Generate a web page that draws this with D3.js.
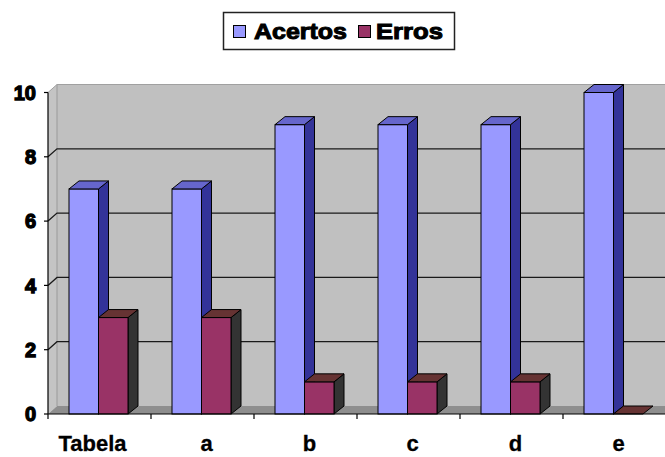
<!DOCTYPE html>
<html>
<head>
<meta charset="utf-8">
<script src="https://cdn.jsdelivr.net/npm/d3@7"></script>
<style>
  html, body { margin: 0; padding: 0; background: #fff; }
  svg { display: block; }
  text { font-family: "Liberation Sans", Arial, sans-serif; font-weight: bold; fill: #000; }
</style>
</head>
<body>
<svg id="chart" width="665" height="457"></svg>
<script>
// Chart data
const categories = ["Tabela", "a", "b", "c", "d", "e"];
const seriesNames = ["Acertos", "Erros"];
const acertos = [7, 7, 9, 9, 9, 10];
const erros = [3, 3, 1, 1, 1, 0];
const yTicks = [0, 2, 4, 6, 8, 10];

(function () {
const W = 665, H = 457;
const svg = d3.select("#chart");

// Plot geometry
const plotLeft = 48, plotBottom = 414, plotTop = 92.5;
const band = 103;
const wallDX = 9, wallDY = 8;   // depth of the back wall
const barDX = 10, barDY = 8;    // depth of each column

const x = d3.scaleBand().domain(categories).range([plotLeft, plotLeft + band * categories.length]);
const xs = d3.scaleBand().domain(seriesNames).range([21, 80]);
const y = d3.scaleLinear().domain([0, 10]).range([plotBottom, plotTop]);

const colors = {
  Acertos: { front: "#9999FF", side: "#333399", top: "#6666CC" },
  Erros:   { front: "#993366", side: "#333333", top: "#663333" }
};

const g = svg.append("g");

// Back wall
const wallRight = W + 20;
g.append("rect")
  .attr("x", plotLeft + wallDX).attr("y", y(10) - wallDY)
  .attr("width", wallRight - plotLeft - wallDX).attr("height", plotBottom - y(10))
  .attr("fill", "#C0C0C0");
// Side wall
g.append("path")
  .attr("d", `M${plotLeft},${plotBottom} L${plotLeft},${y(10)} L${plotLeft + wallDX},${y(10) - wallDY} L${plotLeft + wallDX},${plotBottom - wallDY} Z`)
  .attr("fill", "#C4C4C4");
g.append("line")
  .attr("x1", plotLeft + wallDX).attr("x2", plotLeft + wallDX)
  .attr("y1", y(10) - wallDY).attr("y2", plotBottom - wallDY)
  .attr("stroke", "#9a9a9a").attr("stroke-width", 1);
// Floor
g.append("path")
  .attr("d", `M${plotLeft},${plotBottom} L${plotLeft + wallDX},${plotBottom - wallDY} L${wallRight},${plotBottom - wallDY} L${wallRight},${plotBottom} Z`)
  .attr("fill", "#8E8E8E");
// Top edge of the wall
g.append("path")
  .attr("d", `M${plotLeft},${y(10)} L${plotLeft + wallDX},${y(10) - wallDY} L${wallRight},${y(10) - wallDY}`)
  .attr("fill", "none").attr("stroke", "#A0A0A0").attr("stroke-width", 1);

// Gridlines on side wall and back wall
const grid = yTicks.filter(t => t > 0 && t < 10);
g.selectAll(".grid").data(grid).join("path")
  .attr("class", "grid")
  .attr("d", t => `M${plotLeft},${y(t)} L${plotLeft + wallDX},${y(t) - wallDY} L${wallRight},${y(t) - wallDY}`)
  .attr("fill", "none").attr("stroke", "#1a1a1a").attr("stroke-width", 1.3);

// Columns
function column(cx, w, v, c) {
  const x0 = cx, x1 = cx + w;
  const y0 = y(0), y1 = y(v);
  const grp = g.append("g");
  if (v > 0) {
    grp.append("path")
      .attr("d", `M${x1},${y0} L${x1 + barDX},${y0 - barDY} L${x1 + barDX},${y1 - barDY} L${x1},${y1} Z`)
      .attr("fill", c.side).attr("stroke", "#000").attr("stroke-width", 1).attr("stroke-linejoin", "round");
    grp.append("rect")
      .attr("x", x0).attr("y", y1).attr("width", w).attr("height", y0 - y1)
      .attr("fill", c.front).attr("stroke", "#000").attr("stroke-width", 1);
  }
  grp.append("path")
    .attr("d", `M${x0},${y1} L${x0 + barDX},${y1 - barDY} L${x1 + barDX},${y1 - barDY} L${x1},${y1} Z`)
    .attr("fill", c.top).attr("stroke", "#000").attr("stroke-width", 1).attr("stroke-linejoin", "round");
}

categories.forEach((cat, i) => {
  const vals = { Acertos: acertos[i], Erros: erros[i] };
  seriesNames.forEach(s => {
    column(x(cat) + xs(s), xs.bandwidth(), vals[s], colors[s]);
  });
});

// Axes
const yAxis = g.append("g");
yAxis.append("line")
  .attr("x1", plotLeft).attr("x2", plotLeft).attr("y1", y(0)).attr("y2", y(10))
  .attr("stroke", "#000").attr("stroke-width", 1.2);
yAxis.selectAll(".yt").data(yTicks).join("line")
  .attr("x1", plotLeft - 4).attr("x2", plotLeft).attr("y1", d => y(d)).attr("y2", d => y(d))
  .attr("stroke", "#000").attr("stroke-width", 1.2);
yAxis.selectAll(".yl").data(yTicks).join("text")
  .attr("x", 36).attr("y", d => y(d)).attr("dy", "0.36em")
  .attr("text-anchor", "end")
  .attr("font-size", 20)
  .attr("stroke", "#000").attr("stroke-width", 1.3)
  .text(d => d);

const xAxis = g.append("g");
xAxis.append("line")
  .attr("x1", plotLeft).attr("x2", W).attr("y1", plotBottom).attr("y2", plotBottom)
  .attr("stroke", "#000").attr("stroke-width", 1.2);
xAxis.selectAll(".xt").data(d3.range(categories.length + 1).map(i => plotLeft + i * band)).join("line")
  .attr("x1", d => d).attr("x2", d => d).attr("y1", plotBottom).attr("y2", plotBottom + 5)
  .attr("stroke", "#000").attr("stroke-width", 1.2);
xAxis.selectAll(".xl").data(categories).join("text")
  .attr("x", d => x(d) + x.bandwidth() / 2 + (d === "Tabela" ? -7 : 4))
  .attr("y", 451)
  .attr("text-anchor", "middle")
  .attr("font-size", 22)
  .attr("stroke", "#000").attr("stroke-width", 0.3)
  .text(d => d);

// Legend
const lg = svg.append("g");
lg.append("rect")
  .attr("x", 223.5).attr("y", 12.5).attr("width", 231).attr("height", 37)
  .attr("fill", "#fff").attr("stroke", "#222").attr("stroke-width", 1.5);
const legendItems = [
  { name: "Acertos", sx: 233, tx: 254, tw: 93 },
  { name: "Erros", sx: 358, tx: 376, tw: 67 }
];
legendItems.forEach(it => {
  lg.append("rect")
    .attr("x", it.sx + 0.5).attr("y", 25.5).attr("width", 12).attr("height", 12)
    .attr("fill", colors[it.name].front).attr("stroke", "#000").attr("stroke-width", 1);
  lg.append("text")
    .attr("x", it.tx).attr("y", 39)
    .attr("font-size", 22)
    .attr("textLength", it.tw).attr("lengthAdjust", "spacingAndGlyphs")
    .attr("stroke", "#000").attr("stroke-width", 1)
    .text(it.name);
});
})();
</script>
</body>
</html>
